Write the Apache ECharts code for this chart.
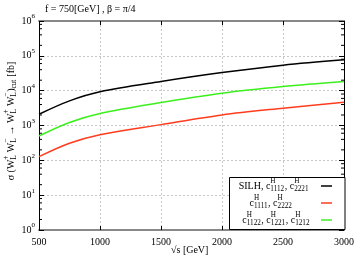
<!DOCTYPE html>
<html><head><meta charset="utf-8">
<script src="https://cdn.jsdelivr.net/npm/echarts@6/dist/echarts.min.js"></script>
<style>html,body{margin:0;padding:0;background:#fff}#c{width:364px;height:265px}</style>
</head><body><div id="c"></div>
<script>
const sqrtS = [500, 750, 1000, 1500, 2000, 2500, 3000];
const silh = [2110, 5100, 9300, 18300, 33000, 54000, 76700];
const c1111 = [128, 310, 545, 1060, 2010, 3140, 4680];
const c1122 = [500, 1220, 2220, 4560, 8450, 13100, 18300];
const xMin = 500, xMax = 3000, xStep = 500;
const yMin = 1, yMax = 1e6;
const minorMult = [2, 4, 6, 8];
const minorVals = [];
for (let k = 0; k < 6; k++) for (const m of minorMult) minorVals.push(m * Math.pow(10, k));

const FONT = '"Liberation Serif", "DejaVu Serif", serif';
const chart = echarts.init(document.getElementById('c'));
const mctx = document.createElement('canvas').getContext('2d');
function tw(t, s) { mctx.font = s + 'px ' + FONT; return mctx.measureText(t).width; }

function mathPieces(tokens, size, ssize, supDy, subDy) {
  const out = []; let x = 0;
  for (const tk of tokens) {
    if (typeof tk === 'string') {
      out.push({ t: tk, x: x, dy: 0, s: size }); x += tw(tk, size);
    } else {
      let w = 0;
      if (tk.sup) { out.push({ t: tk.sup, x: x, dy: supDy, s: ssize }); w = Math.max(w, tw(tk.sup, ssize)); }
      if (tk.sub) { out.push({ t: tk.sub, x: x, dy: subDy, s: ssize }); w = Math.max(w, tw(tk.sub, ssize)); }
      x += w + 0.5;
    }
  }
  return { pieces: out, width: x };
}
function mathGraphic(tokens, x0, yc, align, size) {
  const m = mathPieces(tokens, size, size * 0.72, -5, 3.5);
  let start = x0;
  if (align === 'right') start = x0 - m.width;
  else if (align === 'center') start = x0 - m.width / 2;
  return m.pieces.map(p => ({
    type: 'text', x: start + p.x, y: yc + p.dy, silent: true,
    style: { text: p.t, fontSize: p.s, fontFamily: FONT, fill: '#000', verticalAlign: 'middle', align: 'left' }
  }));
}

const legendRows = [
  { tokens: ['SILH, c', { sup: 'H', sub: '1112' }, ', c', { sup: 'H', sub: '2221' }], color: '#000000', align: 'right', x: 309, y: 186 },
  { tokens: ['c', { sup: 'H', sub: '1111' }, ', c', { sup: 'H', sub: '2222' }], color: '#ff3c1e', align: 'center', x: 271, y: 203 },
  { tokens: ['c', { sup: 'H', sub: '1122' }, ', c', { sup: 'H', sub: '1221' }, ', c', { sup: 'H', sub: '1212' }], color: '#3cf01e', align: 'right', x: 310, y: 220 }
];

const graphics = [];
graphics.push({ type: 'text', left: 45, top: 4, style: { text: 'f = 750[GeV] , β = π/4', fontSize: 10, fontFamily: FONT, fill: '#000' } });
graphics.push({ type: 'rect', shape: { x: 229.5, y: 177.5, width: 115.5, height: 52 }, style: { fill: '#fff', stroke: '#000', lineWidth: 1 }, z: 10 });
for (const r of legendRows) {
  mathGraphic(r.tokens, r.x, r.y, r.align, 10).forEach(g => { g.z = 11; graphics.push(g); });
  graphics.push({ type: 'line', z: 11, shape: { x1: 321, y1: r.y, x2: 332, y2: r.y }, style: { stroke: r.color, lineWidth: 1.5 } });
}
const yTokens = ['σ (W', { sup: '+', sub: 'L' }, ' W', { sup: '−', sub: 'L' }, ' → W', { sup: '+', sub: 'L' }, ' W', { sup: '−', sub: 'L' }, ')', { sub: 'cut' }, ' [fb]'];
const ym = mathPieces(yTokens, 10, 7.2, -5, 3.5);
graphics.push({
  type: 'group', x: 11, y: 121, rotation: Math.PI / 2,
  children: ym.pieces.map(p => ({
    type: 'text', x: p.x - ym.width / 2, y: p.dy, silent: true,
    style: { text: p.t, fontSize: p.s, fontFamily: FONT, fill: '#000', verticalAlign: 'middle', align: 'left' }
  }))
});
graphics.push({ type: 'text', left: 171, top: 245, style: { text: '√s [GeV]', fontSize: 10, fontFamily: FONT, fill: '#000' } });

function pairs(ys) { return sqrtS.map((x, i) => [x, ys[i]]); }
const gridLine = { show: true, lineStyle: { color: '#c8c8c8', type: [2, 2], width: 1 } };
const yLabelRich = {
  b: { fontSize: 10, fontFamily: FONT, color: '#000', lineHeight: 16, verticalAlign: 'middle' },
  s: { fontSize: 7, fontFamily: FONT, color: '#000', lineHeight: 7, verticalAlign: 'top' }
};
const SM = 0.33;

chart.setOption({
  animation: false,
  grid: { left: 39, right: 20, top: 21, bottom: 35 },
  xAxis: [
    { type: 'value', min: xMin, max: xMax, interval: xStep, position: 'bottom',
      axisLine: { lineStyle: { color: '#888', width: 2 } },
      axisTick: { inside: true, length: 4, lineStyle: { color: '#000' } },
      axisLabel: { fontSize: 10, fontFamily: FONT, color: '#000', margin: 7, formatter: v => String(v) },
      splitLine: gridLine },
    { type: 'value', min: xMin, max: xMax, interval: xStep, position: 'top',
      axisLine: { lineStyle: { color: '#888', width: 2 } },
      axisTick: { inside: true, length: 4, lineStyle: { color: '#000' } },
      axisLabel: { show: false }, splitLine: { show: false } }
  ],
  yAxis: [
    { type: 'log', logBase: 10, min: yMin, max: yMax, position: 'left',
      axisLine: { lineStyle: { color: '#000', width: 1 } },
      axisTick: { inside: true, length: 5, lineStyle: { color: '#000' } },
      axisLabel: { margin: 4, formatter: v => '{b|10}{s|' + Math.round(Math.log10(v)) + '}', rich: yLabelRich },
      splitLine: gridLine },
    { type: 'log', logBase: 10, min: yMin, max: yMax, position: 'right',
      axisLine: { lineStyle: { color: '#000', width: 1 } },
      axisTick: { inside: true, length: 5, lineStyle: { color: '#000' } },
      axisLabel: { show: false }, splitLine: { show: false } }
  ],
  graphic: graphics,
  series: [
    { type: 'line', data: pairs(silh), smooth: SM, symbol: 'none', lineStyle: { color: '#000', width: 1.5 }, z: 5 },
    { type: 'line', data: pairs(c1111), smooth: SM, symbol: 'none', lineStyle: { color: '#ff3c1e', width: 1.5 }, z: 5 },
    { type: 'line', data: pairs(c1122), smooth: SM, symbol: 'none', lineStyle: { color: '#3cf01e', width: 1.5 }, z: 5 },
    { type: 'custom', data: minorVals.map(v => [xMin, v]), z: 6, silent: true,
      renderItem: (params, api) => {
        const v = api.value(1);
        const l = api.coord([xMin, v]); const r = api.coord([xMax, v]);
        return { type: 'group', children: [
          { type: 'line', shape: { x1: l[0], y1: l[1], x2: l[0] + 3, y2: l[1] }, style: { stroke: '#000', lineWidth: 1 } },
          { type: 'line', shape: { x1: r[0], y1: r[1], x2: r[0] - 3, y2: r[1] }, style: { stroke: '#000', lineWidth: 1 } }
        ] };
      } }
  ]
});
</script></body></html>
